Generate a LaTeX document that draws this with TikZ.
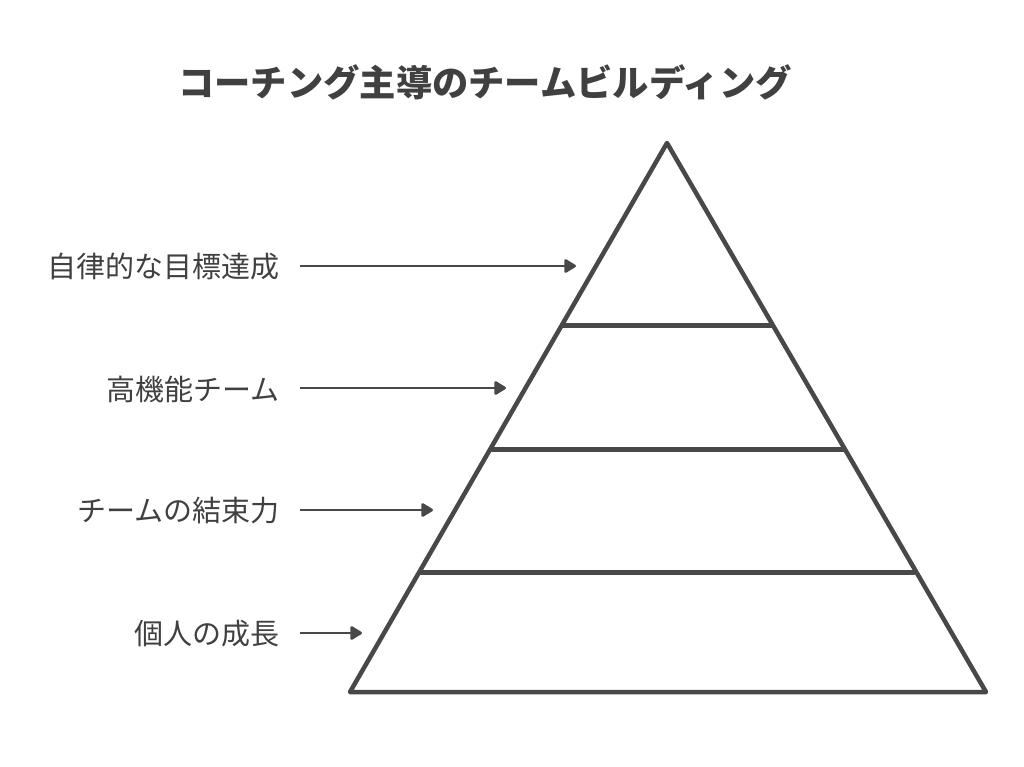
\documentclass[tikz,border=0pt]{standalone}
\usepackage{fontspec}
\setmainfont{Noto Sans CJK JP}
\usetikzlibrary{arrows.meta}
\definecolor{ink}{HTML}{484848}
\definecolor{txt}{HTML}{404040}
\tikzset{
  pyr/.style={draw=ink, line width=4.5pt, line join=round, line cap=round},
  divline/.style={draw=ink, line width=5pt, line cap=round},
  lbl/.style={anchor=east, text=txt, font=\fontsize{29}{33}\selectfont, inner sep=0pt},
  conn/.style={draw=ink, line width=2.6pt, -{Triangle[length=13pt,width=15pt,round]}},
}
\begin{document}
\begin{tikzpicture}[x=1pt,y=-1pt]
\useasboundingbox (0,0) rectangle (1024,767);
\fill[white] (0,0) rectangle (1024,767);
\node[text=txt, font=\bfseries\fontsize{36.3}{40}\selectfont, inner sep=0pt] (title) at (485,82) {コーチング主導のチームビルディング};
% pyramid
\coordinate (apex) at (667,143);
\coordinate (bl) at (350,692);
\coordinate (br) at (986,692);
\coordinate (d1l) at (563,325); \coordinate (d1r) at (772,325);
\coordinate (d2l) at (492,449); \coordinate (d2r) at (844,449);
\coordinate (d3l) at (421,572); \coordinate (d3r) at (914,572);
\draw[pyr] (apex) -- (bl) -- (br) -- cycle;
\draw[divline] (d1l) -- (d1r);
\draw[divline] (d2l) -- (d2r);
\draw[divline] (d3l) -- (d3r);
% labels
\node[lbl] (l1) at (280,267) {自律的な目標達成};
\node[lbl] (l2) at (280,389) {高機能チーム};
\node[lbl] (l3) at (280,511) {チームの結束力};
\node[lbl] (l4) at (280,634) {個人の成長};
\coordinate (t1) at (576,266);
\coordinate (t2) at (506,388);
\coordinate (t3) at (433,510);
\coordinate (t4) at (362,633);
\draw[conn] ([xshift=20pt]l1.east |- t1) -- (t1);
\draw[conn] ([xshift=20pt]l2.east |- t2) -- (t2);
\draw[conn] ([xshift=20pt]l3.east |- t3) -- (t3);
\draw[conn] ([xshift=20pt]l4.east |- t4) -- (t4);
\end{tikzpicture}
\end{document}
